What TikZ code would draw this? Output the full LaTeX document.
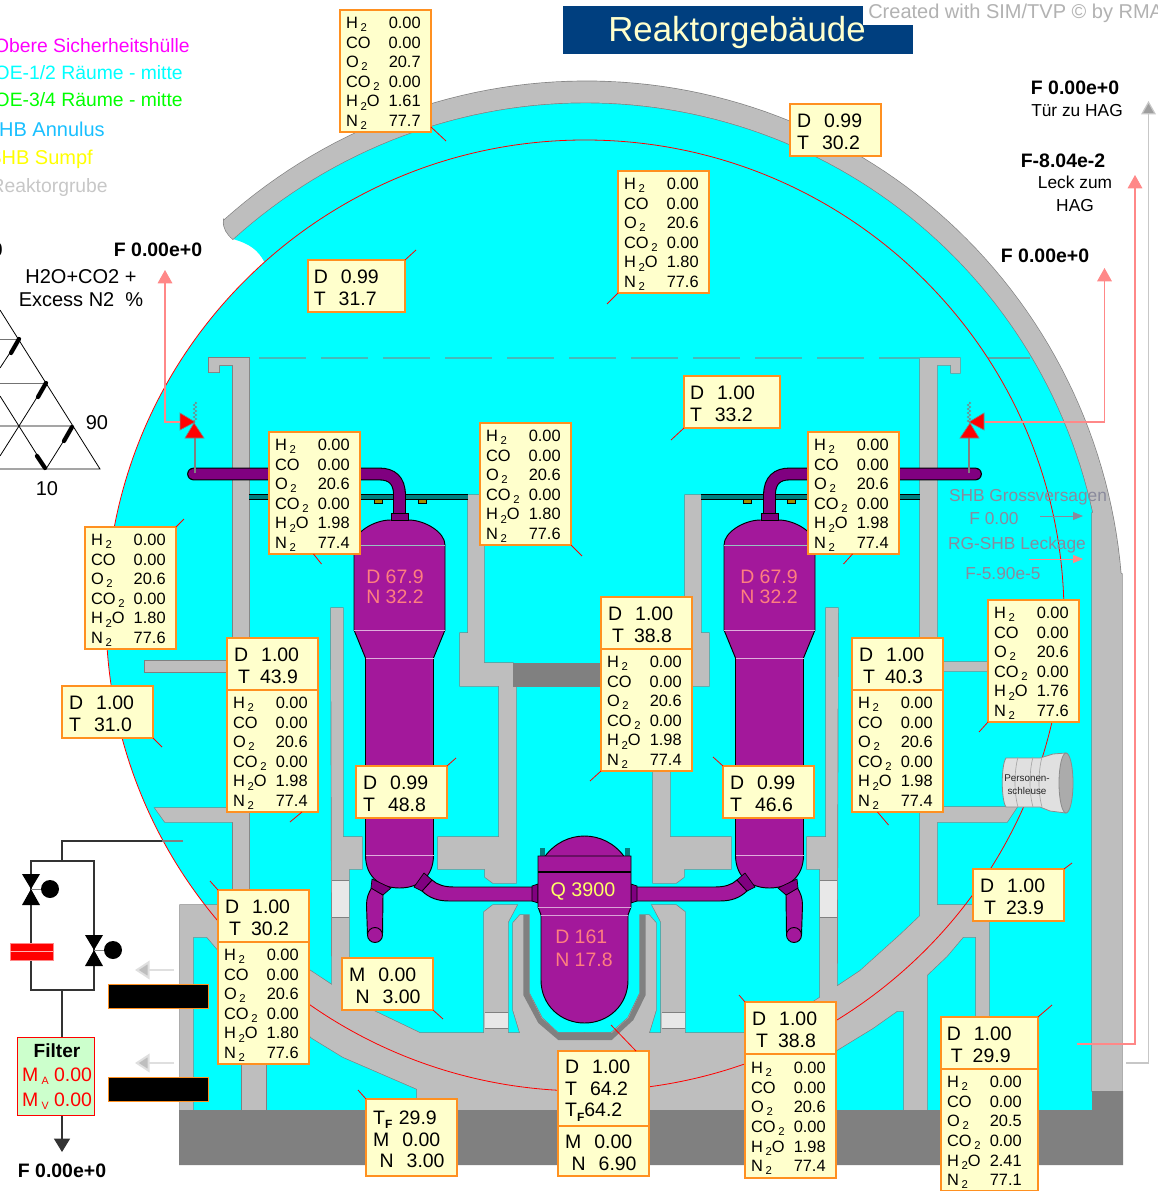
\documentclass[tikz,border=0pt]{standalone}
\usepackage{fontspec}
\setmainfont{Liberation Sans}
\usetikzlibrary{arrows.meta,positioning,decorations.pathmorphing}

\definecolor{roomcyan}{HTML}{00FFFF}
\definecolor{wallgray}{HTML}{BEBEBE}
\definecolor{walledge}{HTML}{808080}
\definecolor{vesselpurple}{HTML}{A3189B}
\definecolor{pipepurple}{HTML}{800080}
\definecolor{boxyellow}{HTML}{FFFFCC}
\definecolor{boxorange}{HTML}{FF9020}
\definecolor{flowpink}{HTML}{FF8888}
\definecolor{saltext}{HTML}{FF7F7F}
\definecolor{titlenavy}{HTML}{003F7F}
\definecolor{shbtext}{HTML}{8A8A9C}
\definecolor{lineteal}{HTML}{008080}
\definecolor{tabolive}{HTML}{A09000}
\definecolor{legmagenta}{HTML}{FF00FF}
\definecolor{leggreen}{HTML}{00FF00}
\definecolor{legblue}{HTML}{19BFFF}
\definecolor{legyellow}{HTML}{FFFF00}
\definecolor{filtergreen}{HTML}{CCFFCC}
\definecolor{purered}{HTML}{FF0000}

\newcommand{\gsub}[1]{\,\raisebox{-0.35ex}{\fontsize{8.5}{9}\selectfont #1}}
\newcommand{\tfsub}{\raisebox{-0.4ex}{\fontsize{9}{9}\bfseries\selectfont F}}
\newcommand{\tind}{\hspace*{3pt}T\hspace{7.5pt}}
\newcommand{\gastab}[3]{\makebox[68.25pt][l]{\hspace{4.5pt}\raisebox{-5pt}[0pt][0pt]{\begin{tabular*}{56pt}{@{\extracolsep{\fill}}l@{}r@{}}
H\gsub{2} & 0.00\\ CO & 0.00\\ O\gsub{2} & #1\\ CO\gsub{2} & 0.00\\ H\gsub{2}O & #2\\ N\gsub{2} & #3
\end{tabular*}}}}

% radius of the shell faces against the angle, seen from (595,605)
\newcommand{\outerR}{(521+13.5*((\x-55)/79)^2)}
\newcommand{\innerR}{(500+15*((\x-60)/75)^2)}

% walls that appear twice, left and mirrored right
\newcommand{\innerwalls}[1]{
    \path[#1] (331,608) -- (343,608) -- (343,837) -- (362,837) -- (362,869) -- (349,869) -- (349,1005) -- (332,990) -- cycle;
    \path[#1] (468,495) -- (484,495) -- (484,663) -- (513,663) -- (513,675) -- (516,675) -- (516,883) -- (493,883) -- (485,877) -- (485,869) -- (438,869) -- (438,837) -- (499,837) -- (499,686) -- (460,686) -- (460,633) -- (468,633) -- cycle;
    \path[#1] (484,912) -- (493,905) -- (517,905) -- (508,922) -- (508,1040) -- (484,1040) -- cycle;
}
\newcommand{\outerwalls}[1]{
    \path[#1] plot[domain=134:3.4,samples=90] ({595+\outerR*cos(\x)},{605-\outerR*sin(\x)}) -- (1122,574) -- (1122,1091) -- (1092,1091) -- (1092,513) -- plot[domain=10.5:134.7,samples=90] ({595+\innerR*cos(\x)},{605-\innerR*sin(\x)}) .. controls (227,234) and (223,228) .. (223.7,220.5) -- cycle;
    \path[#1] (209,358) -- (249,358) -- (249,940) -- (233,940) -- (233,365) -- (219,365) -- (219,372) -- (209,372) -- cycle;
    \path[#1] (145,661) -- (235,661) -- (235,672) -- (145,672) -- cycle;
    \path[#1] (155,808) -- (235,808) -- (235,822) -- (165,822) -- cycle;
    \path[#1] (180,1110) -- (180,905) -- (233,905) -- (249,930) -- (332,985) -- (349,998) -- (372,1010) -- (420,1033) -- (584.5,1033) -- (584.5,1110) -- (417,1110) -- (417,1089) -- (343,1057) -- (312,1038) -- (218,950) -- (207,937) -- (193,937) -- (193,1110) -- cycle;
    \path[#1] (584.5,1110) -- (752,1110) -- (752,1089) -- (837,1050) -- (873,1028) -- (897,1011) -- (904,1011) -- (904,1110) -- (927,1110) -- (927,975) -- (947,956) -- (963,937) -- (976,937) -- (976,1025) -- (989,1025) -- (989,905) -- (937,905) -- (937,822) -- (1007,822) -- (1017,807) -- (937,807) -- (937,671) -- (988,671) -- (988,662) -- (937,662) -- (937,365) -- (951,365) -- (951,373) -- (960,373) -- (960,358) -- (920,358) -- (920,916) -- (900,935) -- (860,971) -- (839,985) -- (813,1002) -- (797,1010) -- (749,1033) -- (584.5,1033) -- cycle;
    \path[#1] (242,1060) -- (266,1060) -- (266,1110) -- (242,1110) -- cycle;
    \path[#1] (513,923) -- (520,915) -- (529,915) -- (529,993) -- (542,1018) -- (558,1033) -- (611,1033) -- (628,1018) -- (640,993) -- (640,915) -- (649,915) -- (656,923) -- (656,1010) -- (649,1033) -- (611,1056) -- (558,1056) -- (520,1033) -- (513,1010) -- cycle;
}

\begin{document}
\begin{tikzpicture}[
        x=0.75pt, y=-0.75pt,
        valbox/.style={draw=boxorange, fill=boxyellow, line width=0.9pt, anchor=north west, text width=57.5pt, text height=13pt, align=left, inner sep=0pt, outer sep=0pt, minimum width=68.25pt, minimum height=39pt, font=\fontsize{14.6}{16.4}\selectfont},
        gasbox/.style={draw=boxorange, fill=boxyellow, line width=0.9pt, anchor=north west, inner sep=0pt, outer sep=0pt, minimum width=68.25pt, minimum height=91.5pt, font=\fontsize{12.3}{14.7}\selectfont},
        tick/.style={draw=red, line width=0.6pt},
        wallfill/.style={fill=wallgray},
        walledgeline/.style={draw=walledge, line width=1pt},
        vessel/.style={fill=vesselpurple, draw=black, line width=0.7pt},
        collar/.style={fill=pipepurple, draw=black, line width=0.5pt},
        plain/.style={inner sep=0pt},
        boldlab/.style={plain, font=\fontsize{14.6}{16}\bfseries\selectfont},
        seclab/.style={plain, font=\fontsize{13}{15}\selectfont},
        shblab/.style={plain, text=shbtext, font=\fontsize{13}{15}\selectfont},
        saltlab/.style={plain, text=saltext, align=left, font=\fontsize{14.6}{15.2}\selectfont},
        legend/.style={plain, anchor=east, font=\fontsize{14.5}{16}\selectfont},
        pinkflow/.style={draw=flowpink, line width=0.8pt, -{Triangle[length=10pt,width=11pt,fill=flowpink]}},
        grayarrow/.style={draw=wallgray!50, line width=1.5pt, -{Triangle[length=11pt,width=14pt,fill=wallgray]}},
        circuit/.style={draw=black!80, line width=0.8pt},
        blackbar/.style={fill=black, draw=boxorange, line width=0.7pt, anchor=north west, inner sep=0pt, minimum width=75pt, minimum height=18pt}
    ]
    \useasboundingbox (0,0) rectangle (1157,1191);

    % rooms
    \fill[roomcyan] plot[domain=134.7:10.5,samples=90] ({595+\innerR*cos(\x)},{605-\innerR*sin(\x)}) -- (1092,513) -- (1092,1110) -- (180,1110) -- (180,905) -- (205,905) -- plot[domain=142.6:228,samples=60] ({585+479*cos(\x)},{615.5+475.5*sin(\x)}) .. controls (258,250) and (250,244) .. (233,239) -- cycle;

    % walls: outline pass, then fill pass hides inner edges
    \outerwalls{walledgeline}
    \innerwalls{walledgeline}
    \begin{scope}[shift={(1169,0)},xscale=-1]
        \innerwalls{walledgeline}
    \end{scope}
    \outerwalls{wallfill}
    \innerwalls{wallfill}
    \begin{scope}[shift={(1169,0)},xscale=-1]
        \innerwalls{wallfill}
    \end{scope}

    % foundation, floor, liner
    \fill[walledge] (179,1110) -- (1092,1110) -- (1092,1091) -- (1123,1091) -- (1123,1165) -- (179,1165) -- cycle;
    \fill[walledge] (513,663) rectangle (656,687);
    \fill[walledge] (523.3,915) -- (529,915) -- (529,993) -- (541.7,1018) -- (558.3,1033) -- (611.7,1033) -- (628.3,1018) -- (640,993) -- (640,915) -- (645.7,915) -- (645.7,995) -- (633.3,1020) -- (611.7,1040) -- (558.3,1040) -- (538.3,1023) -- (523.3,995) -- cycle;
    \foreach \sqx/\sqy/\sqw/\sqh in {332/880/17/37, 820/880/17/37, 484.5/1012/23/16, 661.5/1012/23/16} {
        \fill[black!9] (\sqx,\sqy) rectangle ++(\sqw,\sqh);
        \draw[walledge, line width=0.6pt] (\sqx,\sqy) -- ++(\sqw,0) (\sqx,\sqy+\sqh) -- ++(\sqw,0);
    }

    % thin lines
    \draw[walledge!55!roomcyan, line width=0.8pt, dash pattern=on 35.25pt off 11.25pt] (259,358) -- (920,358);
    \draw[walledge!70!roomcyan, line width=0.8pt] (988,358) -- (1030,358);
    \draw[red, line width=0.6pt] (585,615.5) ellipse[x radius=479, y radius=475.5];

    % steam generators, left and mirrored right
    \foreach \cx/\mir in {399.5/1, 769.5/-1} {
        \begin{scope}[shift={(\cx,0)}, xscale=\mir]
            \fill[black] (-150.5,493.5) rectangle (68.5,499.5);
            \fill[lineteal] (-150.5,494.5) rectangle (68.5,498.5);
            \foreach \tabx in {-25.5, 18.5} {
                \fill[tabolive, draw=black, line width=0.3pt] (\tabx,499.5) rectangle ++(8,4);
            }
            \draw[black, line width=9.6pt, line cap=round] (-206,474) -- (-20,474) .. controls (-8,474) and (0,480) .. (0,495) -- (0,513);
            \draw[pipepurple, line width=8pt, line cap=round] (-206,474) -- (-20,474) .. controls (-8,474) and (0,480) .. (0,495) -- (0,513);
            \draw[vessel] (-45.5,545) -- (-45.5,630) -- (-34,658) -- (-34,855) .. controls (-34,878) and (-18,888) .. (0,888) .. controls (18,888) and (34,878) .. (34,855) -- (34,658) -- (45.5,630) -- (45.5,545) .. controls (45.5,532) and (25,520) .. (9,520) -- (-9,520) .. controls (-25,520) and (-45.5,532) .. (-45.5,545) -- cycle;
            \draw[collar] (-8.5,513) rectangle (8.5,520);
            \draw[black!20!teal!40!white, line width=0.6pt] (-45.5,545) -- (45.5,545);
            \draw[white!65!vesselpurple, line width=0.6pt] (-45.5,630) -- (45.5,630) (-34,658) -- (34,658) (-34,855) -- (34,855);
            % outlet legs and cold pipe
            \draw[vessel] (-16.5,895) -- (-17,935) -- (-32,935) -- (-33,905) .. controls (-33,898) and (-31,893) .. (-28,888) -- cycle;
            \draw[vessel] (-24.5,935) circle[radius=7.5];
            \draw[collar] (-27.5,879) -- (-8.5,888) -- (-16.5,895) -- (-28.5,888) -- cycle;
            \draw[vessel] (32.5,880) .. controls (38,885) and (45,887) .. (55,887) -- (133,887) -- (133,901) -- (50,901) .. controls (38,901) and (30,898) .. (22.5,891) -- cycle;
            \draw[collar] (32.5,880) -- (24.5,873) -- (14.5,887) -- (22.5,891) -- cycle;
        \end{scope}
    }

    % pressure vessel
    \begin{scope}[shift={(584.5,0)}]
        \foreach \mir in {1,-1} {
            \begin{scope}[xscale=\mir]
                \fill[lineteal] (40,848) rectangle (45,857);
                \draw[collar] (-46.5,884) -- (-52.5,886) -- (-52.5,901) -- (-46.5,903) -- cycle;
            \end{scope}
        }
        \draw[vessel] (-40,857) .. controls (-30,843) and (-15,836) .. (0,836) .. controls (15,836) and (30,843) .. (40,857) -- cycle;
        \draw[vessel] (-46.5,856) -- (46.5,856) -- (46.5,907) -- (43.5,915) -- (43.5,980) .. controls (43.5,1005) and (24,1023) .. (0,1023) .. controls (-24,1023) and (-43.5,1005) .. (-43.5,980) -- (-43.5,915) -- (-46.5,907) -- cycle;
        \draw[black, line width=1.1pt] (-46.5,872) -- (46.5,872);
        \draw[white!60!vesselpurple, line width=0.7pt] (-46.5,907) -- (46.5,907) (-43.5,915) -- (43.5,915);
    \end{scope}

    \node[plain, text=legyellow!60, font=\fontsize{14.8}{16}\selectfont] (power) at (583,891) {Q 3900};
    \node[saltlab, anchor=west, font=\fontsize{14.6}{17}\selectfont] (coreLab) at (555,948) {D 161\\N 17.8};
    \node[saltlab, anchor=west] (sgLeftLab) at (366,586.5) {D 67.9\\N 32.2};
    \node[saltlab, anchor=west] (sgRightLab) at (740,586.5) {D 67.9\\N 32.2};

    % person lock
    \draw[fill=black!12, draw=black!45, line width=0.6pt] (1006,758) -- (1040,758) -- (1053,754) -- (1066,753) -- (1066,813) -- (1050,811) -- (1040,807) -- (1006,807) .. controls (1001,800) and (1001,765) .. (1006,758) -- cycle;
    \draw[black!35, line width=0.5pt] (1018,757) .. controls (1014,772) and (1014,793) .. (1018,807) (1033,757) .. controls (1029,772) and (1029,793) .. (1033,807) (1042,757) .. controls (1038,772) and (1038,793) .. (1042,807);
    \draw[fill=black!33, draw=black!45, line width=0.6pt] (1066,783) ellipse[x radius=7, y radius=30];
    \node[plain, align=center, font=\fontsize{7.4}{9.7}\selectfont, text=black!85] (lock) at (1027,785) {Personen-\\schleuse};

    % relief valves
    \foreach \vx/\mir in {195/1, 969/-1} {
        \begin{scope}[shift={(\vx,0)}, xscale=\mir]
            \draw[walledge, line width=0.5pt, decorate, decoration={zigzag, amplitude=1.3pt, segment length=3pt}] (0,402) -- (0,422);
            \draw[walledge, line width=0.9pt] (0,438) -- (0,473);
            \draw[fill=purered, draw=walledge, line width=0.5pt] (-15,413) -- (-15,430) -- (0,422) -- cycle;
            \draw[fill=purered, draw=walledge, line width=0.5pt] (-10,438) -- (9,438) -- (-1,423) -- cycle;
        \end{scope}
    }
    \coordinate (reliefL) at (180,422);
    \coordinate (ventL) at (165,270);
    \coordinate (reliefR) at (985,422);
    \coordinate (ventR) at (1104.5,268);
    \coordinate (leakFoot) at (1077,1044);
    \coordinate (leakTop) at (1135,175);
    \coordinate (doorFoot) at (1126,1063);
    \coordinate (doorTop) at (1148.5,101);
    \draw[pinkflow] (reliefL) -| (ventL);
    \draw[pinkflow] (reliefR) -| (ventR);
    \draw[pinkflow] (leakFoot) -| (leakTop);
    \draw[draw=black!22, line width=0.9pt, -{Triangle[length=10pt,width=11pt,fill=black!38]}] (doorFoot) -| (doorTop);

    % flow labels inside the annulus
    \node[shblab] (shbFail) at (1028,497) {SHB Grossversagen};
    \node[shblab] (shbFailF) at (994,519) {F 0.00};
    \node[shblab] (shbLeak) at (1017,545) {RG-SHB Leckage};
    \node[shblab] (shbLeakF) at (1003,574) {F-5.90e-5};
    \coordinate (failStart) at (1040,516);
    \coordinate (failEnd) at (1083,516);
    \coordinate (leakStart) at (1029,559);
    \coordinate (leakEnd) at (1083,559);
    \draw[draw=shbtext, line width=0.7pt, -{Triangle[length=7.5pt,width=6pt,fill=shbtext]}] (failStart) -- (failEnd);
    \draw[draw=flowpink, line width=0.7pt, -{Triangle[length=7.5pt,width=6pt,fill=flowpink]}] (leakStart) -- (leakEnd);

    % title
    \fill[titlenavy] (563,6) rectangle (913,54);
    \fill[white] (863,0) rectangle (1157,25);
    \node[plain, text=boxyellow, font=\fontsize{26.1}{28}\selectfont] (title) at (737,33) {Reaktorgebäude};
    \node[plain, anchor=west, text=black!30, font=\fontsize{15}{16}\selectfont] (credit) at (868,13) {Created with SIM/TVP © by RMA};

    % legend
    \foreach \legx/\legy/\legc/\legf/\legt [count=\legi] in {
        190/46/legmagenta/14.5/Obere Sicherheitshülle,
        183/73/roomcyan/14.5/{OE-1/2 Räume - mitte},
        183/100/leggreen/14.5/{OE-3/4 Räume - mitte},
        105/129/legblue/15/SHB Annulus,
        93/159/legyellow/15/SHB Sumpf,
        108/188/black!22/14.5/Reaktorgrube} {
        \node[legend, text=\legc, font=\fontsize{\legf}{16}\selectfont] (leg\legi) at (\legx,\legy) {\legt};
    }

    % top labels
    \node[boldlab] (fDoor) at (1075,87.5) {F 0.00e+0};
    \node[seclab] (door) at (1077,111) {Tür zu HAG};
    \node[boldlab] (fLeak) at (1063,160.5) {F-8.04e-2};
    \node[seclab, align=center] (leak) at (1075,193.5) {Leck zum\\[2pt]HAG};
    \node[boldlab] (fVentR) at (1045,255.5) {F 0.00e+0};
    \node[boldlab] (fVentL) at (158,249.5) {F 0.00e+0};
    \node[boldlab, anchor=east] (fClip) at (3,249.5) {F 0.00e+0};
    \node[plain, align=center, font=\fontsize{15}{17.2}\selectfont] (excess) at (81,288) {H2O+CO2 +\\Excess N2\ \ \%};

    % ternary plot
    \draw[black, line width=0.6pt] (0,310) -- (100,469) -- (0,469) (0,426) -- (73,426);
    \draw[black!55, line width=0.6pt] (0,339) -- (18,339) (0,383) -- (46,383);
    \draw[black, line width=0.6pt] (46,469) -- (73,426) (46,469) -- (0,396) (19,426) -- (46,383) (19,426) -- (0,456) (0,368) -- (19,339);
    \draw[black, line width=3.2pt, line cap=round] (19,339) -- (11,353) (46,383) -- (38,397) (72,427) -- (64,441) (37,456) -- (45,468);
    \node[plain, font=\fontsize{15}{17}\selectfont] (axisNinety) at (97,423) {90};
    \node[plain, font=\fontsize{15}{17}\selectfont] (axisTen) at (47,489) {10};

    % filter line
    \coordinate (lineIn) at (62,841);
    \coordinate (lineStub) at (183,841);
    \coordinate (splitTop) at (62,861);
    \coordinate (splitBot) at (62,990);
    \coordinate (branchLT) at (31,861);
    \coordinate (branchRT) at (94,861);
    \coordinate (outFlow) at (62,1152);
    \draw[walledge, line width=0.8pt] (162,841) -- (lineStub);
    \draw[circuit] (162,841) -- (lineIn) -- (splitTop);
    \draw[circuit] (branchLT) -- (branchRT) -- (94,990) -- (31,990) -- cycle;
    \node[draw=flowpink, fill=purered, inner sep=0pt, minimum width=32pt, minimum height=12.5pt] (rupture) at (31.5,951.5) {};
    \draw[white!70!purered, line width=0.5pt] (rupture.west) -- (rupture.east);
    \foreach \vx/\vy in {31/889, 94/950} {
        \fill[black] (\vx-9,\vy-15) -- (\vx+9,\vy-15) -- (\vx,\vy) -- cycle;
        \fill[black] (\vx-9,\vy+16) -- (\vx+9,\vy+16) -- (\vx,\vy) -- cycle;
        \draw[walledge, line width=0.5pt] (\vx,\vy) -- (\vx+12,\vy);
        \fill[black] (\vx+19,\vy) circle[radius=9];
    }
    \node[draw=purered, fill=filtergreen, line width=0.8pt, anchor=north west, minimum width=57.5pt, minimum height=58.5pt, inner sep=0pt] (filter) at (17,1037) {};
    \node[plain, font=\fontsize{14.3}{16}\bfseries\selectfont] (filterLab) at (57,1051) {Filter};
    \node[plain, text=purered, font=\fontsize{14.6}{16}\selectfont] (filterA) at (57,1076) {M\gsub{\fontsize{8}{8}\selectfont A}\ 0.00};
    \node[plain, text=purered, font=\fontsize{14.6}{16}\selectfont] (filterV) at (57,1101) {M\gsub{\fontsize{8}{8}\selectfont V}\ 0.00};
    \draw[circuit] (splitBot) -- (filter.north -| splitBot);
    \draw[circuit, -{Triangle[length=10pt,width=12pt]}] (filter.south -| splitBot) -- (outFlow);
    \node[boldlab] (fFilter) at (62,1170.5) {F 0.00e+0};

    % left gray arrows and blacked-out boxes
    \coordinate (barArrowA) at (174,970);
    \coordinate (barTipA) at (135,970);
    \coordinate (barArrowB) at (174,1063);
    \coordinate (barTipB) at (135,1063);
    \draw[grayarrow] (barArrowA) -- (barTipA);
    \draw[grayarrow] (barArrowB) -- (barTipB);
    \node[blackbar] (barA) at (108,984) {};
    \node[blackbar] (barB) at (108,1077) {};

    % value boxes
    \node[gasbox] (gasTop) at (340,10) {\gastab{20.7}{1.61}{77.7}};
    \node[gasbox] (gasDome) at (618,171) {\gastab{20.6}{1.80}{77.6}};
    \node[gasbox] (gasPipeL) at (269,432) {\gastab{20.6}{1.98}{77.4}};
    \node[gasbox] (gasMid) at (480,423) {\gastab{20.6}{1.80}{77.6}};
    \node[gasbox] (gasPipeR) at (808,432) {\gastab{20.6}{1.98}{77.4}};
    \node[gasbox] (gasLeft) at (85,527) {\gastab{20.6}{1.80}{77.6}};
    \node[gasbox] (gasRight) at (988,600) {\gastab{20.6}{1.76}{77.6}};

    \node[valbox] (dtDome) at (790,104) {D\ \ 0.99\\T\ \ 30.2};
    \node[valbox, minimum width=72.75pt, text width=64pt] (dtUpL) at (308,260) {D\ \ 0.99\\T\ \ 31.7};
    \node[valbox, minimum width=72pt, text width=63pt] (dtUpR) at (684,376) {D\ \ 1.00\\T\ \ 33.2};
    \node[valbox] (dtWest) at (62,686) {D\ \ 1.00\\T\ \ 31.0};
    \node[valbox] (dtSgL) at (356,766) {D\ \ 0.99\\T\ \ 48.8};
    \node[valbox] (dtSgR) at (723,766) {D\ \ 0.99\\T\ \ 46.6};
    \node[valbox] (dtEast) at (973,869) {D\ \ 1.00\\\tind 23.9};

    \node[valbox] (dtRoomL) at (227,638) {D\ \ 1.00\\\tind 43.9};
    \node[gasbox, below=0pt of dtRoomL] (gasRoomL) {\gastab{20.6}{1.98}{77.4}};
    \node[valbox] (dtCore) at (601,597) {D\ \ 1.00\\\tind 38.8};
    \node[gasbox, below=0pt of dtCore] (gasCore) {\gastab{20.6}{1.98}{77.4}};
    \node[valbox] (dtRoomR) at (852,638) {D\ \ 1.00\\\tind 40.3};
    \node[gasbox, below=0pt of dtRoomR] (gasRoomR) {\gastab{20.6}{1.98}{77.4}};
    \node[valbox, minimum width=72.75pt, text width=64pt] (dtSump) at (941,1017) {D\ \ 1.00\\\tind 29.9};
    \node[gasbox, minimum width=72.75pt, below=0pt of dtSump] (gasSump) {\hspace*{-4.5pt}\gastab{20.5}{2.41}{77.1}};
    \node[valbox] (dtBelowR) at (745,1002) {D\ \ 1.00\\\tind 38.8};
    \node[gasbox, minimum height=93pt, below=0pt of dtBelowR] (gasBelowR) {\gastab{20.6}{1.98}{77.4}};
    \node[valbox] (dtBelowL) at (218,890) {D\ \ 1.00\\\tind 30.2};
    \node[gasbox, below=0pt of dtBelowL] (gasBelowL) {\gastab{20.6}{1.80}{77.6}};

    \node[valbox] (mnLeft) at (342,958) {M\ \ 0.00\\\ N\ \ 3.00};
    \node[valbox, minimum height=57.75pt] (tfLeft) at (366,1099) {T\tfsub\ 29.9\\M\ \ 0.00\\\ N\ \ 3.00};
    \node[valbox, minimum height=56.25pt] (pit) at (558,1051) {D\ \ 1.00\\T\ \ 64.2\\T\tfsub 64.2};
    \node[valbox, minimum height=37.5pt, below=0pt of pit] (pitLow) {M\ \ 0.00\\\ N\ \ 6.90};

    % leader ticks
    \draw[tick] (gasTop.south east) ++(0,-5) -- ++(15,14);
    \draw[tick] (gasDome.south west) -- ++(-11,11);
    \draw[tick] (dtUpL.north east) -- ++(11,-10);
    \draw[tick] (gasPipeL.south) ++(-1,0) -- ++(8,10);
    \draw[tick] (gasMid.south east) -- ++(11,11);
    \draw[tick] (dtUpR.south west) -- ++(-13,12);
    \draw[tick] (gasPipeR.south) ++(-1,0) -- ++(-9,10);
    \draw[tick] (gasLeft.north east) -- ++(8,-8);
    \draw[tick] (gasRoomL.south east) ++(-16,0) -- ++(-12,10);
    \draw[tick] (dtWest.south east) -- ++(9,9);
    \draw[tick] (dtSgL.north east) -- ++(9,-8);
    \draw[tick] (gasCore.south west) -- ++(-11,10);
    \draw[tick] (dtSgR.north west) -- ++(-10,-9);
    \draw[tick] (gasRoomR.south) ++(-20,0) -- ++(11,13);
    \draw[tick] (gasRight.south west) -- ++(-9,10);
    \draw[tick] (dtEast.north east) -- ++(8,-6);
    \draw[tick] (dtSump.north east) -- ++(14,-12);
    \draw[tick] (dtBelowR.north west) -- ++(-6,-7);
    \draw[tick] (dtBelowL.north west) -- ++(-8,-9);
    \draw[tick] (mnLeft.south east) -- ++(10,9);
    \draw[tick] (tfLeft.north west) -- ++(-8,-9);
    \draw[tick] (pit.north east) ++(-13,0) -- ++(-25,-26);
\end{tikzpicture}
\end{document}
